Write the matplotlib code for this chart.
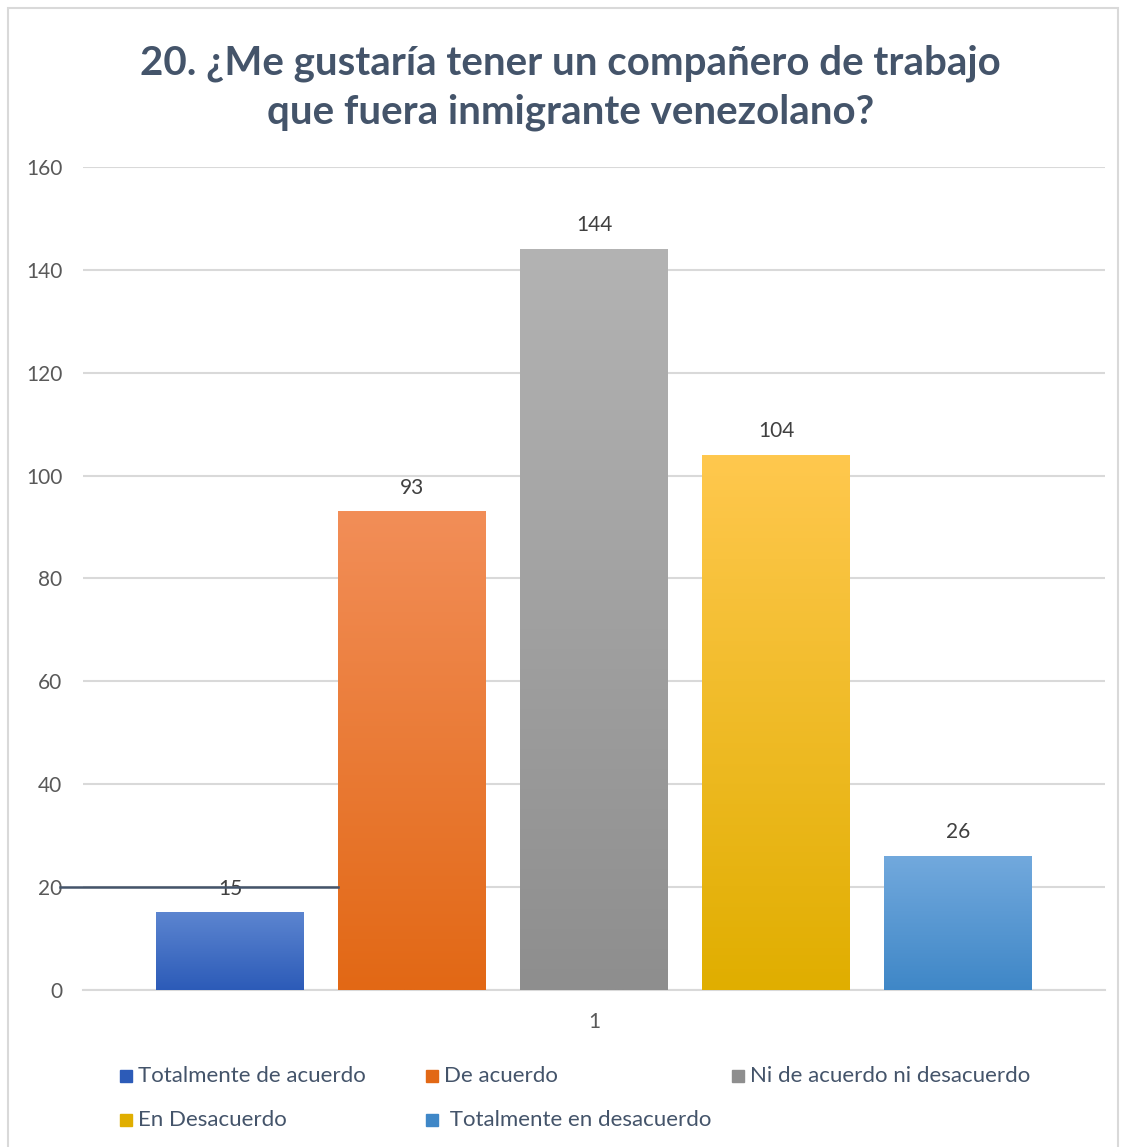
import matplotlib

matplotlib.use("Agg")
import matplotlib.pyplot as plt
import numpy as np
from matplotlib.colors import LinearSegmentedColormap
from matplotlib.patches import Rectangle

plt.rcParams["font.family"] = ["Lato", "DejaVu Sans"]

TITLE = "20. ¿Me gustaría tener un compañero de trabajo\nque fuera inmigrante venezolano?"
categories = [
    "Totalmente de acuerdo",
    "De acuerdo",
    "Ni de acuerdo ni desacuerdo",
    "En Desacuerdo",
    " Totalmente en desacuerdo",
]
values = [15, 93, 144, 104, 26]
x_label = "1"
y_ticks = [0, 20, 40, 60, 80, 100, 120, 140, 160]
# gradient colours (top, bottom) per series
top_colors = ["#5C85D0", "#F28E58", "#B3B3B3", "#FFC84E", "#72A9DD"]
bottom_colors = ["#2C5BB8", "#E26815", "#8E8E8E", "#E0AE00", "#3F87C7"]

TEXT = "#44546A"
GRID = "#D9D9D9"

fig = plt.figure(figsize=(11.28, 11.47), dpi=100)
ax = fig.add_axes([0.0736, 0.1369, 0.906, 0.7175])

width = 0.813
xs = np.arange(len(values))
grad = np.linspace(1, 0, 256).reshape(-1, 1)
for x, v, c0, c1 in zip(xs, values, top_colors, bottom_colors):
    cmap = LinearSegmentedColormap.from_list("g", [c1, c0])
    ax.imshow(grad, cmap=cmap, vmin=0, vmax=1, aspect="auto",
              extent=(x - width / 2, x + width / 2, 0, v), zorder=3)
    ax.text(x, v + 2.7, str(v), ha="center", va="bottom", fontsize=15, color="#404040", zorder=4)

ax.set_xlim(-0.808, 4.808)
ax.set_ylim(0, 160)
ax.set_yticks(y_ticks)
ax.set_xticks([2])
ax.set_xticklabels([x_label])
ax.tick_params(length=0, labelsize=15, colors="#595959")
ax.tick_params(axis="x", pad=16)
ax.tick_params(axis="y", pad=15)
ax.grid(axis="y", color=GRID, linewidth=1.5, zorder=0)
for s in ["top", "right", "left"]:
    ax.spines[s].set_visible(False)
ax.spines["bottom"].set_color(GRID)
ax.spines["bottom"].set_linewidth(1.5)

# stray connector line from the original
ax.plot([-0.934, 0.593], [20, 20], color=TEXT, linewidth=1.8, clip_on=False, zorder=5)

fig.text(0.506, 0.961, TITLE, ha="center", va="top", fontsize=29, fontweight="bold",
         color=TEXT, linespacing=1.38)

# legend
leg_pos = [(120, 1076), (426, 1076), (732, 1076), (120, 1120), (426, 1120)]
W, H = 1128, 1147
for (px, py), lab, c in zip(leg_pos, categories, bottom_colors):
    fig.add_artist(Rectangle((px / W, (H - py - 6) / H), 12 / W, 12 / H,
                             transform=fig.transFigure, color=c))
    fig.text((px + 18) / W, (H - py) / H, lab, ha="left", va="center", fontsize=16, color=TEXT)

fig.add_artist(Rectangle((8 / W, -0.01), 1110 / W, (H - 8) / H + 0.01, transform=fig.transFigure,
                         fill=False, edgecolor=GRID, linewidth=1.5))

fig.savefig("out.png", dpi=100)
